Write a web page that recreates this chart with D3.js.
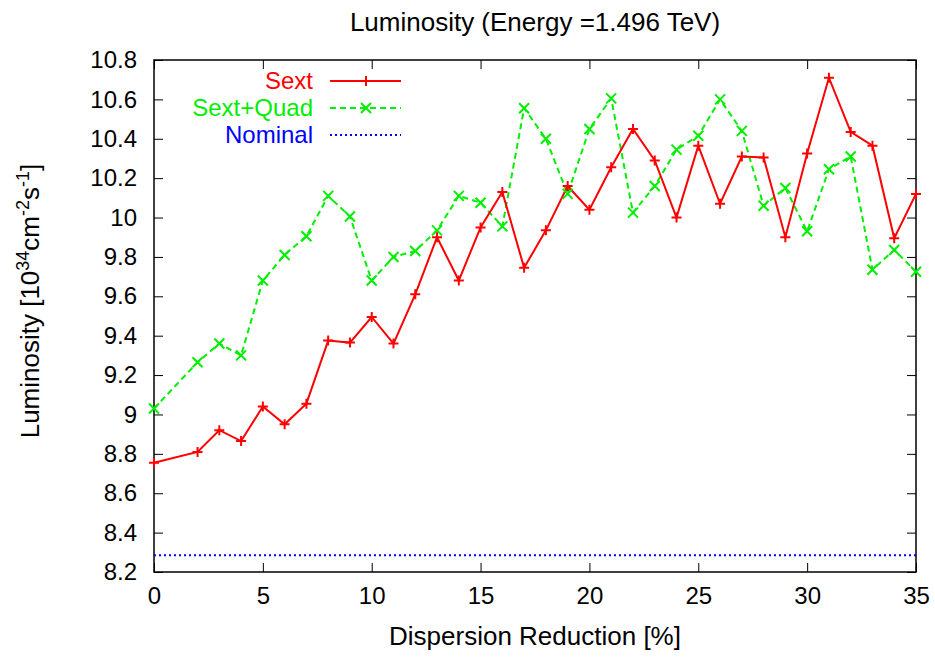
<!DOCTYPE html>
<html>
<head>
<meta charset="utf-8">
<script src="https://cdn.jsdelivr.net/npm/d3@7"></script>
<style>
  body { margin: 0; background: #fff; }
  svg text { font-family: "Liberation Sans", Arial, sans-serif; }
</style>
</head>
<body>
<div id="chart"></div>
<script>
// Dispersion reduction [%] (no point at 1)
const xs = [0, 2, 3, 4, 5, 6, 7, 8, 9, 10, 11, 12, 13, 14, 15, 16, 17, 18, 19, 20, 21, 22, 23, 24, 25, 26, 27, 28, 29, 30, 31, 32, 33, 34, 35];
const sext = [8.755, 8.81, 8.92, 8.865, 9.04, 8.95, 9.055, 9.375, 9.365, 9.495, 9.36, 9.61, 9.9, 9.68, 9.95, 10.13, 9.745, 9.935, 10.16, 10.04, 10.255, 10.45, 10.29, 10.0, 10.365, 10.07, 10.31, 10.305, 9.9, 10.325, 10.71, 10.435, 10.365, 9.895, 10.12];
const sextQuad = [9.03, 9.265, 9.36, 9.3, 9.68, 9.81, 9.905, 10.11, 10.005, 9.68, 9.8, 9.83, 9.935, 10.11, 10.075, 9.955, 10.555, 10.4, 10.12, 10.45, 10.605, 10.025, 10.16, 10.345, 10.415, 10.6, 10.44, 10.06, 10.15, 9.93, 10.245, 10.31, 9.735, 9.835, 9.725];
const nominal = 8.285;
const xTicks = [0, 5, 10, 15, 20, 25, 30, 35];
const yTicks = [8.2, 8.4, 8.6, 8.8, 9, 9.2, 9.4, 9.6, 9.8, 10, 10.2, 10.4, 10.6, 10.8];

const W = 935, H = 657;
const margin = {top: 60, right: 19, bottom: 85, left: 154};
const width = W - margin.left - margin.right;
const height = H - margin.top - margin.bottom;

const svg = d3.select("#chart").append("svg")
  .attr("width", W)
  .attr("height", H);

const g = svg.append("g")
  .attr("transform", `translate(${margin.left},${margin.top})`);

const x = d3.scaleLinear().domain([0, 35]).range([0, width]);
const y = d3.scaleLinear().domain([8.2, 10.8]).range([height, 0]);

// Axes with inward ticks, mirrored on top and right
const fmt = d => String(+d.toFixed(1));
const tl = 9;
g.append("g")
  .attr("transform", `translate(0,${height})`)
  .call(d3.axisBottom(x).tickValues(xTicks).tickSize(-tl).tickPadding(15).tickFormat(fmt))
  .call(a => a.select(".domain").remove());
g.append("g")
  .call(d3.axisTop(x).tickValues(xTicks).tickSize(-tl).tickFormat(""))
  .call(a => a.select(".domain").remove());
g.append("g")
  .call(d3.axisLeft(y).tickValues(yTicks).tickSize(-tl).tickPadding(17).tickFormat(fmt))
  .call(a => a.select(".domain").remove());
g.append("g")
  .attr("transform", `translate(${width},0)`)
  .call(d3.axisRight(y).tickValues(yTicks).tickSize(-tl).tickFormat(""))
  .call(a => a.select(".domain").remove());

g.selectAll(".tick line").attr("stroke", "#000").attr("stroke-width", 1);
g.selectAll(".tick text")
  .attr("fill", "#000")
  .style("font-size", "24px");

g.append("rect")
  .attr("width", width)
  .attr("height", height)
  .attr("fill", "none")
  .attr("stroke", "#000")
  .attr("stroke-width", 1.5);

// Series
const sextData = xs.map((d, i) => ({x: d, y: sext[i]}));
const sqData = xs.map((d, i) => ({x: d, y: sextQuad[i]}));
const line = d3.line().x(d => x(d.x)).y(d => y(d.y));

const plot = g.append("g");

plot.append("line")
  .attr("x1", 0).attr("x2", width)
  .attr("y1", y(nominal)).attr("y2", y(nominal))
  .attr("stroke", "#0000ff")
  .attr("stroke-width", 2)
  .attr("stroke-dasharray", "2,3");

plot.append("path")
  .datum(sqData)
  .attr("fill", "none")
  .attr("stroke", "#00ee00")
  .attr("stroke-width", 2)
  .attr("stroke-dasharray", "6,4")
  .attr("d", line);

plot.append("path")
  .datum(sextData)
  .attr("fill", "none")
  .attr("stroke", "#ff0000")
  .attr("stroke-width", 2)
  .attr("d", line);

const m = 5;
const plusPath = (cx, cy) => `M${cx - m},${cy}H${cx + m}M${cx},${cy - m}V${cy + m}`;
const crossPath = (cx, cy) => `M${cx - m},${cy - m}L${cx + m},${cy + m}M${cx - m},${cy + m}L${cx + m},${cy - m}`;

plot.selectAll(".sq-pt")
  .data(sqData)
  .join("path")
  .attr("class", "sq-pt")
  .attr("d", d => crossPath(x(d.x), y(d.y)))
  .attr("stroke", "#00ee00")
  .attr("stroke-width", 2);

plot.selectAll(".sext-pt")
  .data(sextData)
  .join("path")
  .attr("class", "sext-pt")
  .attr("d", d => plusPath(x(d.x), y(d.y)))
  .attr("stroke", "#ff0000")
  .attr("stroke-width", 2);

// Legend
const legend = [
  {name: "Sext", color: "#ff0000", dash: null, mark: plusPath},
  {name: "Sext+Quad", color: "#00ee00", dash: "6,4", mark: crossPath},
  {name: "Nominal", color: "#0000ff", dash: "2,3", mark: null}
];
const lg = svg.append("g");
legend.forEach((d, i) => {
  const ly = 81 + i * 27;
  lg.append("text")
    .attr("x", 313).attr("y", ly)
    .attr("dy", "0.35em")
    .attr("text-anchor", "end")
    .attr("fill", d.color)
    .style("font-size", "24px")
    .text(d.name);
  lg.append("line")
    .attr("x1", 330).attr("x2", 401)
    .attr("y1", ly).attr("y2", ly)
    .attr("stroke", d.color)
    .attr("stroke-width", 2)
    .attr("stroke-dasharray", d.dash);
  if (d.mark) {
    lg.append("path")
      .attr("d", d.mark(366, ly))
      .attr("stroke", d.color)
      .attr("stroke-width", 2);
  }
});

// Title and axis labels
svg.append("text")
  .attr("x", margin.left + width / 2)
  .attr("y", 31)
  .attr("text-anchor", "middle")
  .style("font-size", "26px")
  .text("Luminosity (Energy =1.496 TeV)");

svg.append("text")
  .attr("x", margin.left + width / 2)
  .attr("y", 645)
  .attr("text-anchor", "middle")
  .style("font-size", "26px")
  .text("Dispersion Reduction [%]");

const yl = svg.append("text")
  .attr("transform", `translate(39,301) rotate(-90)`)
  .attr("text-anchor", "middle")
  .style("font-size", "26px");
yl.append("tspan").text("Luminosity [10");
yl.append("tspan").attr("dy", -10).style("font-size", "18px").text("34");
yl.append("tspan").attr("dy", 10).text("cm");
yl.append("tspan").attr("dy", -10).style("font-size", "18px").text("-2");
yl.append("tspan").attr("dy", 10).text("s");
yl.append("tspan").attr("dy", -10).style("font-size", "18px").text("-1");
yl.append("tspan").attr("dy", 10).text("]");
</script>
</body>
</html>
